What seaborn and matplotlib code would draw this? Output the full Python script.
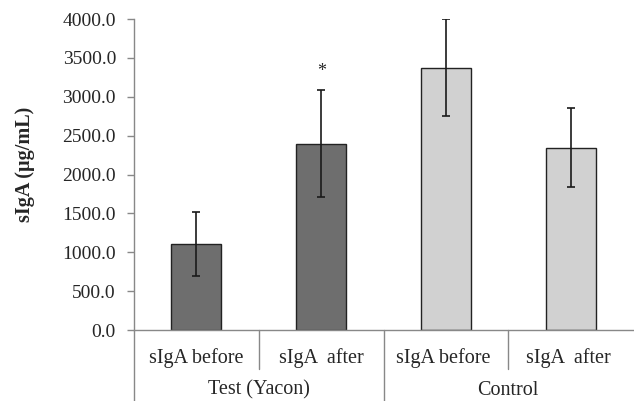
import matplotlib
matplotlib.use('Agg')
import matplotlib.pyplot as plt
import matplotlib.transforms as mtransforms
import seaborn as sns

categories = ['sIgA before', 'sIgA  after', 'sIgA before ', 'sIgA  after ']
groups = ['Test (Yacon)', 'Control']
values = [1110, 2395, 3375, 2345]
errors = [410, 690, 620, 505]
star_value = 3320
ytick_vals = [0, 500, 1000, 1500, 2000, 2500, 3000, 3500, 4000]
ytick_labels = ['0.0', '500.0', '1000.0', '1500.0', '2000.0',
                '2500.0', '3000.0', '3500.0', '4000.0']

sns.set_style('white')
plt.rcParams['font.family'] = ['Liberation Serif', 'DejaVu Serif']

fig = plt.figure(figsize=(6.34, 4.01), dpi=100)
ax = fig.add_axes([0.2114, 0.177, 0.787, 0.7755])

colors = ['#6e6e6e', '#6e6e6e', '#d1d1d1', '#d1d1d1']
sns.barplot(x=categories, y=values, hue=categories, palette=colors, legend=False,
            width=0.4, edgecolor='#222222', linewidth=1.0, errorbar=None, ax=ax)

centers = [p.get_x() + p.get_width() / 2 for p in ax.patches]
ax.errorbar(centers, values, yerr=errors, fmt='none', ecolor='#1a1a1a',
            elinewidth=1.2, capsize=2.7, capthick=1.2)
ax.text(centers[1], star_value, '*', ha='center', va='center', fontsize=13)

ax.set_ylim(0, 4000)
ax.set_xlim(-0.5, 3.5)
ax.set_yticks(ytick_vals)
ax.set_yticklabels(ytick_labels, fontsize=14)
ax.tick_params(axis='y', direction='out', length=5, width=1, color='#888888',
               left=True, pad=8)
ax.tick_params(axis='x', length=0, labelsize=14.5, pad=13)
ax.set_ylabel('sIgA (\u00b5g/mL)', fontsize=14.5, fontweight='bold')
ax.yaxis.set_label_coords(-0.198, 0.534)

for side in ['top', 'right']:
    ax.spines[side].set_visible(False)
for side in ['left', 'bottom']:
    ax.spines[side].set_color('#888888')
    ax.spines[side].set_linewidth(1)

# category axis separators
trans = mtransforms.blended_transform_factory(ax.transData, ax.transAxes)
for i in range(len(categories)):
    x = i - 0.5
    bottom = -0.235 if i % 2 == 0 else -0.125
    ax.plot([x, x], [0, bottom], transform=trans, color='#888888', lw=1,
            clip_on=False)
for g, name in enumerate(groups):
    ax.text(g * 2 + 0.5, -0.193, name, transform=trans, ha='center',
            va='center', fontsize=14.5)

fig.savefig('out.png', dpi=100)
